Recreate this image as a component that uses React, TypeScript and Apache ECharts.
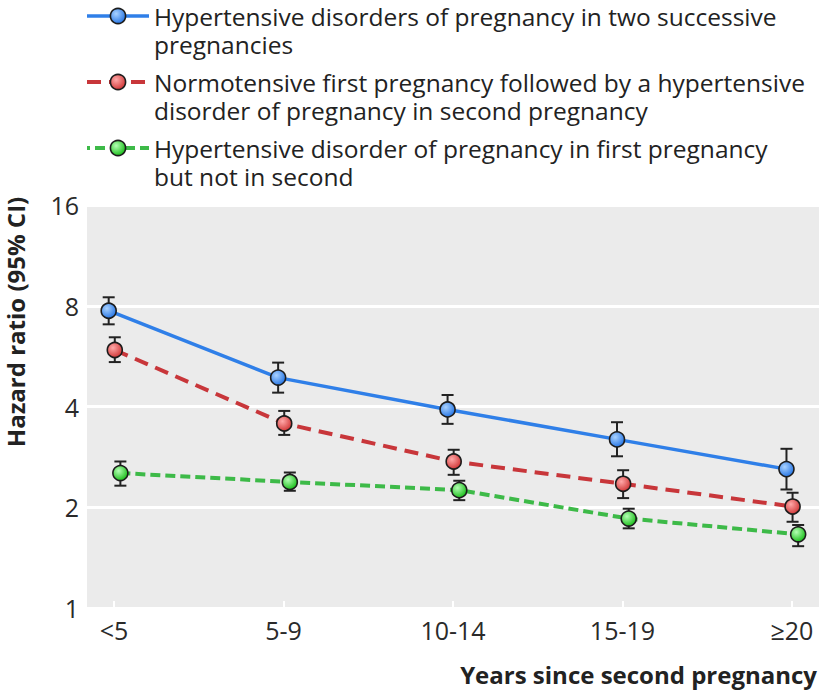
import React, { useEffect, useRef } from "react";
import * as echarts from "echarts";

const categories = ["<5", "5-9", "10-14", "15-19", "≥20"];
const seriesNames = [
  "Hypertensive disorders of pregnancy in two successive\npregnancies",
  "Normotensive first pregnancy followed by a hypertensive\ndisorder of pregnancy in second pregnancy",
  "Hypertensive disorder of pregnancy in first pregnancy\nbut not in second",
];
const successiveHR = [7.73, 4.88, 3.92, 3.19, 2.6];
const successiveLow = [7.04, 4.4, 3.55, 2.84, 2.26];
const successiveHigh = [8.48, 5.41, 4.33, 3.59, 2.99];
const secondOnlyHR = [5.9, 3.56, 2.74, 2.35, 2.01];
const secondOnlyLow = [5.43, 3.29, 2.5, 2.13, 1.81];
const secondOnlyHigh = [6.44, 3.88, 2.97, 2.58, 2.21];
const firstOnlyHR = [2.53, 2.38, 2.25, 1.85, 1.66];
const firstOnlyLow = [2.32, 2.24, 2.1, 1.73, 1.53];
const firstOnlyHigh = [2.74, 2.54, 2.4, 1.98, 1.77];
const yAxisName = "Hazard ratio (95% CI)";
const xAxisName = "Years since second pregnancy";

const FONT = '"Open Sans", "Noto Sans", sans-serif';

export default function App() {
  const ref = useRef<HTMLDivElement>(null);
  useEffect(() => {
    if (!ref.current) return;
    const chart = echarts.init(ref.current, undefined, { renderer: "svg" });
    const dodge = [-0.032, 0.004, 0.037];
    const lineColors = ["#2f7fe8", "#c8363a", "#3dba48"];
    const lineWidths = [3.5, 4, 4];
    const lineTypes: any[] = ["solid", [14, 8], [10, 5]];
    const fills = [
      ["#a9d2ff", "#2b79e6"],
      ["#ffa8a8", "#d23b3b"],
      ["#b4ffb4", "#1fc01f"],
    ];
    const hrs = [successiveHR, secondOnlyHR, firstOnlyHR];
    const lows = [successiveLow, secondOnlyLow, firstOnlyLow];
    const highs = [successiveHigh, secondOnlyHigh, firstOnlyHigh];
    const grad = (s: number) =>
      new echarts.graphic.RadialGradient(0.38, 0.35, 0.65, [
        { offset: 0, color: fills[s][0] },
        { offset: 1, color: fills[s][1] },
      ]);

    const series: any[] = [];
    for (let s = 0; s < 3; s++) {
      series.push({
        type: "custom",
        name: "CI " + s,
        z: 1,
        silent: true,
        renderItem: (params: any, api: any) => {
          const x = api.value(0);
          const lo = api.coord([x, api.value(1)]);
          const hi = api.coord([x, api.value(2)]);
          const w = 6;
          const st = { stroke: "#222", lineWidth: 2 };
          return {
            type: "group",
            children: [
              { type: "line", shape: { x1: lo[0], y1: lo[1], x2: hi[0], y2: hi[1] }, style: st },
              { type: "line", shape: { x1: lo[0] - w, y1: lo[1], x2: lo[0] + w, y2: lo[1] }, style: st },
              { type: "line", shape: { x1: hi[0] - w, y1: hi[1], x2: hi[0] + w, y2: hi[1] }, style: st },
            ],
          };
        },
        encode: { x: 0, y: [1, 2] },
        data: categories.map((_, i) => [i + dodge[s], lows[s][i], highs[s][i]]),
      });
    }
    for (let s = 0; s < 3; s++) {
      series.push({
        type: "line",
        name: seriesNames[s],
        z: 3 + s,
        symbol: "circle",
        symbolSize: 15,
        showSymbol: true,
        itemStyle: { color: grad(s), borderColor: "#1c1c1c", borderWidth: 1.6 },
        lineStyle: { color: lineColors[s], width: lineWidths[s], type: lineTypes[s] },
        data: categories.map((_, i) => [i + dodge[s], hrs[s][i]]),
      });
    }

    chart.setOption({
      animation: false,
      textStyle: { fontFamily: FONT },
      grid: {
        left: 87,
        right: 1,
        top: 205,
        bottom: 84,
        show: true,
        backgroundColor: "#ebebeb",
        borderWidth: 0,
      },
      legend: {
        orient: "vertical",
        left: 85,
        top: -26,
        padding: 0,
        itemWidth: 62,
        itemHeight: 19,
        itemGap: -18,
        selectedMode: false,
        formatter: (name: string) => "\n" + name,
        data: seriesNames.map((n, s) => ({
          name: n,
          itemStyle: { color: grad(s), borderColor: "#1c1c1c", borderWidth: 1.6 },
          lineStyle: {
            color: lineColors[s],
            width: lineWidths[s],
            type: lineTypes[s],
            dashOffset: s === 2 ? 7 : 0,
          },
        })),
        textStyle: {
          fontFamily: FONT,
          fontSize: 24.5,
          color: "#222",
          lineHeight: 28,
        },
      },
      xAxis: {
        type: "value",
        min: -0.16,
        max: 4.16,
        axisLine: { show: false },
        splitLine: { show: false },
        axisTick: {
          show: true,
          inside: true,
          length: 7,
          customValues: [0, 1, 2, 3, 4],
          lineStyle: { color: "#ffffff", width: 2 },
        },
        axisLabel: {
          customValues: [0, 1, 2, 3, 4],
          formatter: (v: number) => categories[Math.round(v)],
          fontFamily: FONT,
          fontSize: 25,
          color: "#2a2a2a",
          margin: 9,
        },
      },
      yAxis: {
        type: "log",
        logBase: 2,
        min: 1,
        max: 16,
        axisLine: { show: false },
        axisTick: { show: false },
        splitLine: { show: true, lineStyle: { color: "#ffffff", width: 3 } },
        axisLabel: {
          fontFamily: FONT,
          fontSize: 25,
          color: "#2a2a2a",
          margin: 8,
        },
      },
      graphic: [
        {
          type: "text",
          x: 15,
          y: 322,
          rotation: Math.PI / 2,
          style: {
            text: yAxisName,
            font: 'bold 24px "Open Sans", sans-serif',
            fill: "#222",
            align: "center",
            verticalAlign: "middle",
          },
        },
        {
          type: "text",
          x: 817,
          y: 674,
          style: {
            text: xAxisName,
            font: 'bold 24px "Open Sans", sans-serif',
            fill: "#222",
            align: "right",
            verticalAlign: "middle",
          },
        },
      ],
      series,
    });
    return () => chart.dispose();
  }, []);
  return (
    <div
      ref={ref}
      style={{ position: "absolute", left: 0, top: 0, width: 820, height: 692 }}
    />
  );
}
